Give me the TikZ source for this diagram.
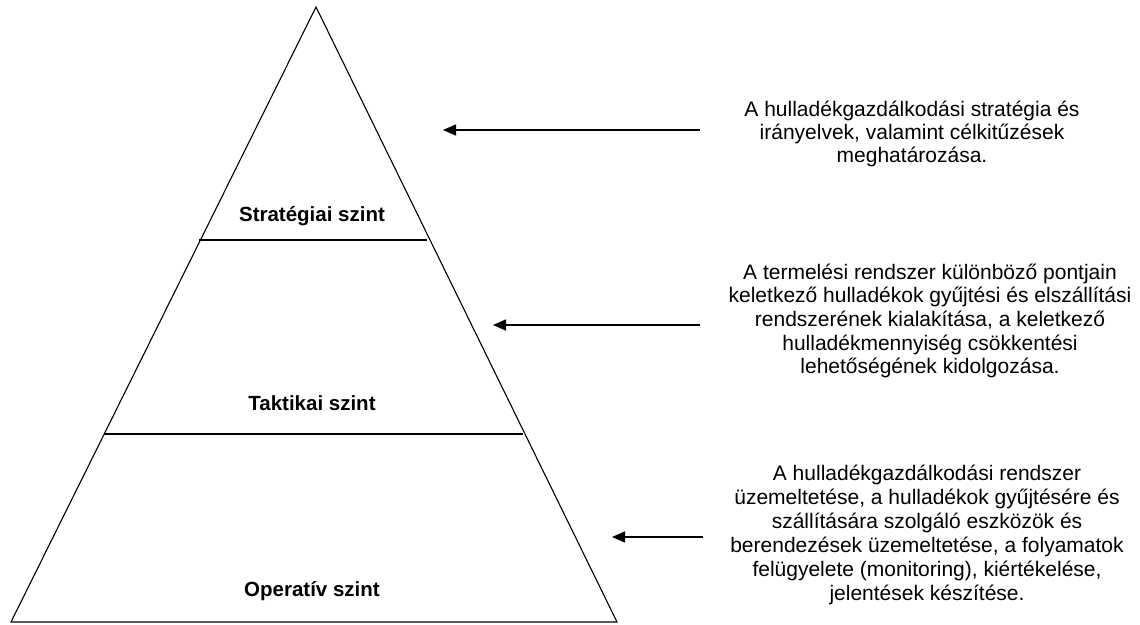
\documentclass[tikz,border=0pt]{standalone}
\usepackage{fontspec}
\setmainfont{Liberation Sans}
\usetikzlibrary{arrows.meta}
\begin{document}
\begin{tikzpicture}[x=1pt,y=-1pt,
  edge/.style={line width=1.1pt,black},
  divider/.style={line width=1.4pt,black},
  levellabel/.style={font=\fontsize{20.5}{24}\selectfont\bfseries,inner sep=0pt},
  desc/.style={font=\fontsize{21}{23.6}\selectfont,align=center,inner sep=0pt},
  pointer/.style={line width=1.5pt,-{Triangle[length=13pt,width=11pt]}}]
\useasboundingbox (0,0) rectangle (1140,624);

% pyramid outline
\coordinate (apex) at (316,7);
\coordinate (bl) at (11,622);
\coordinate (br) at (617,622);
\draw[edge,line join=miter] (apex) -- (br) -- (bl) -- cycle;

% level dividers
\coordinate (d1l) at (199,240);
\coordinate (d1r) at (427,240);
\coordinate (d2l) at (104,434);
\coordinate (d2r) at (523,434);
\draw[divider] (d1l) -- (d1r);
\draw[divider] (d2l) -- (d2r);

% level names
\node[levellabel] (strat) at (312,216) {Stratégiai szint};
\node[levellabel] (takt) at (312,403) {Taktikai szint};
\node[levellabel] (oper) at (312,591) {Operatív szint};

% descriptions
\node[desc,font=\fontsize{21}{22.6}\selectfont] (t1) at (912,134) {A hulladékgazdálkodási stratégia és\\irányelvek, valamint célkitűzések\\meghatározása.};
\node[desc] (t2) at (930,321) {A termelési rendszer különböző pontjain\\keletkező hulladékok gyűjtési és elszállítási\\rendszerének kialakítása, a keletkező\\hulladékmennyiség csökkentési\\lehetőségének kidolgozása.};
\node[desc,font=\fontsize{21}{24}\selectfont] (t3) at (927,535) {A hulladékgazdálkodási rendszer\\üzemeltetése, a hulladékok gyűjtésére és\\szállítására szolgáló eszközök és\\berendezések üzemeltetése, a folyamatok\\felügyelete (monitoring), kiértékelése,\\jelentések készítése.};

% pointers into the pyramid
\coordinate (s1) at (700,130);
\coordinate (e1) at (443,130);
\coordinate (s2) at (700,325);
\coordinate (e2) at (493,325);
\coordinate (s3) at (703,537);
\coordinate (e3) at (612,537);
\draw[pointer] (s1) -- (e1);
\draw[pointer] (s2) -- (e2);
\draw[pointer] (s3) -- (e3);
\end{tikzpicture}
\end{document}
